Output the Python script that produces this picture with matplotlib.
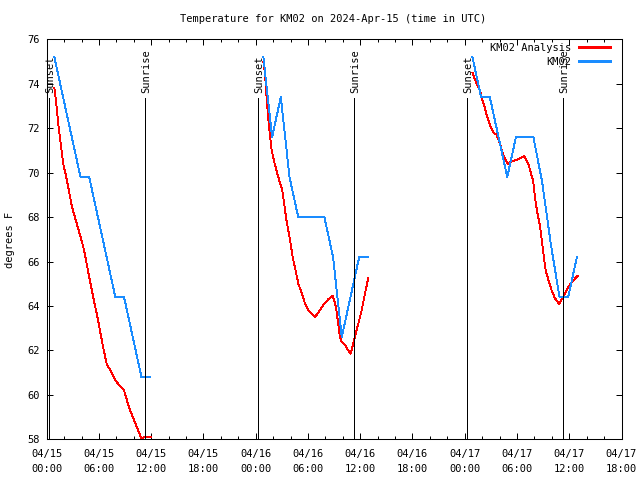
import numpy as np
import pandas as pd
import matplotlib
matplotlib.use("Agg")
import matplotlib.pyplot as plt
import matplotlib.dates as mdates

# hours after 2024-04-15 00:00 UTC
obs_hours = [
    [0.88, 1.88, 2.88, 3.88, 4.88, 5.88, 6.88, 7.88, 8.88, 9.88, 10.88, 11.88],
    [24.88, 25.88, 26.88, 27.88, 28.88, 29.88, 30.88, 31.88, 32.88, 33.88, 34.88, 35.88, 36.88],
    [48.88, 49.88, 50.88, 51.88, 52.88, 53.88, 54.88, 55.88, 56.88, 57.88, 58.88, 59.88, 60.88],
]
obs_temps = [
    [75.2, 73.4, 71.6, 69.8, 69.8, 68.0, 66.2, 64.4, 64.4, 62.6, 60.8, 60.8],
    [75.2, 71.6, 73.4, 69.8, 68.0, 68.0, 68.0, 68.0, 66.2, 62.6, 64.4, 66.2, 66.2],
    [75.2, 73.4, 73.4, 71.6, 69.8, 71.6, 71.6, 71.6, 69.6, 66.8, 64.4, 64.4, 66.2],
]

ana_hours = [
    [0.88, 1.05, 1.35, 1.9, 2.3, 2.88, 3.45, 3.9, 4.3, 4.88, 5.5, 5.88, 6.4, 6.88,
     7.45, 7.88, 8.4, 8.88, 9.4, 9.88, 10.4, 10.85, 11.0, 11.3, 11.97],
    [24.88, 25.06, 25.26, 25.52, 25.83, 26.21, 26.59, 27.05, 27.55, 27.93, 28.24,
     28.58, 28.89, 29.27, 29.66, 30.04, 30.42, 30.8, 31.19, 31.76, 32.33, 32.83,
     33.02, 33.21, 33.37, 33.52, 33.67, 33.87, 34.25, 34.63, 34.9, 35.2, 35.51,
     35.78, 36.16, 36.54, 36.92],
    [48.88, 49.37, 49.75, 50.0, 50.32, 50.58, 50.9, 51.28, 51.66, 52.04, 52.42,
     52.93, 53.39, 54.15, 54.84, 55.3, 55.87, 56.06, 56.33, 56.64, 56.83, 57.02,
     57.29, 57.59, 57.98, 58.36, 58.62, 58.85, 59.13, 59.5, 59.88, 60.46, 60.96],
]
ana_temps = [
    [73.8, 73.3, 72.1, 70.4, 69.7, 68.5, 67.7, 67.1, 66.5, 65.3, 64.1, 63.4, 62.3, 61.4,
     61.0, 60.65, 60.4, 60.2, 59.5, 59.0, 58.5, 58.05, 58.05, 58.12, 58.12],
    [75.0, 74.5, 73.3, 72.1, 71.0, 70.35, 69.8, 69.2, 67.8, 67.0, 66.2,
     65.6, 65.0, 64.6, 64.1, 63.8, 63.65, 63.5, 63.7, 64.05, 64.3, 64.45,
     64.25, 63.95, 63.5, 63.05, 62.6, 62.4, 62.25, 62.0, 61.85, 62.3, 62.8,
     63.2, 63.8, 64.55, 65.25],
    [74.5, 74.0, 73.7, 73.3, 72.9, 72.5, 72.15, 71.8, 71.7, 71.3, 70.8,
     70.4, 70.5, 70.6, 70.75, 70.4, 69.6, 68.9, 68.2, 67.6, 67.0, 66.4,
     65.6, 65.2, 64.7, 64.35, 64.2, 64.1, 64.3, 64.55, 64.85, 65.15, 65.35],
]

sunset_hours = [0.27, 24.28, 48.29]
sunrise_hours = [11.32, 35.3, 59.25]
yticks = [58, 60, 62, 64, 66, 68, 70, 72, 74, 76]

base = pd.Timestamp("2024-04-15 00:00")


def to_time(hours):
    return base + pd.to_timedelta(np.asarray(hours), unit="h")


plt.rcParams["font.family"] = "DejaVu Sans Mono"
plt.rcParams["font.size"] = 7.5

fig = plt.figure(figsize=(6.4, 4.8), dpi=100)
ax = fig.add_axes([46.7 / 640, 40.7 / 480, 574.8 / 640, 400 / 480])

red = "#ff0000"
blue = "#1a8cff"
lw = 0.65

for i in range(3):
    ax.plot(to_time(ana_hours[i]), ana_temps[i], color=red, lw=lw, antialiased=False,
            label="KM02 Analysis" if i == 0 else None)
    ax.plot(to_time(obs_hours[i]), obs_temps[i], color=blue, lw=lw, antialiased=False,
            label="KM02" if i == 0 else None)

# sunset / sunrise markers
line_top = 73.35
for hours, name in [(sunset_hours, "Sunset"), (sunrise_hours, "Sunrise")]:
    for h in hours:
        ax.vlines(to_time([h])[0], 58, line_top, color="black", lw=0.72, antialiased=False)
        ax.text(to_time([h + 0.15])[0], 73.6, name, rotation=90, ha="center", va="bottom")

ax.set_xlim(base, base + pd.Timedelta(hours=66))
ax.set_ylim(58, 76)
ax.set_yticks(yticks)
ax.xaxis.set_major_locator(mdates.HourLocator(byhour=[0, 6, 12, 18]))
ax.xaxis.set_minor_locator(mdates.HourLocator(byhour=range(0, 24, 2)))
ax.xaxis.set_major_formatter(mdates.DateFormatter("%m/%d\n%H:%M"))

ax.tick_params(which="both", direction="in", top=True, right=True, width=0.72)
ax.tick_params(which="major", length=4.5)
ax.tick_params(which="minor", length=2.5)
ax.tick_params(axis="x", pad=7)
ax.tick_params(axis="y", pad=5)
for lbl in ax.get_xticklabels():
    lbl.set_linespacing(1.6)
for sp in ax.spines.values():
    sp.set_linewidth(0.75)

fig.text(10 / 640, 1 - 240 / 480, "degrees F", rotation=90, ha="center", va="center")
fig.text(333 / 640, 1 - 19 / 480, "Temperature for KM02 on 2024-Apr-15 (time in UTC)",
         ha="center", va="center")

leg = ax.legend(loc="upper right", bbox_to_anchor=(610 / 640, 1 - 43 / 480),
                bbox_transform=fig.transFigure, frameon=False, markerfirst=False,
                borderpad=0, borderaxespad=0, handlelength=3.0, handletextpad=0.7,
                labelspacing=0.35)
for handle, col in zip(leg.legend_handles, [red, blue]):
    handle.set_color(col)
    handle.set_antialiased(False)
    handle.set_linewidth(0.85)

fig.savefig("out.png", dpi=100)
